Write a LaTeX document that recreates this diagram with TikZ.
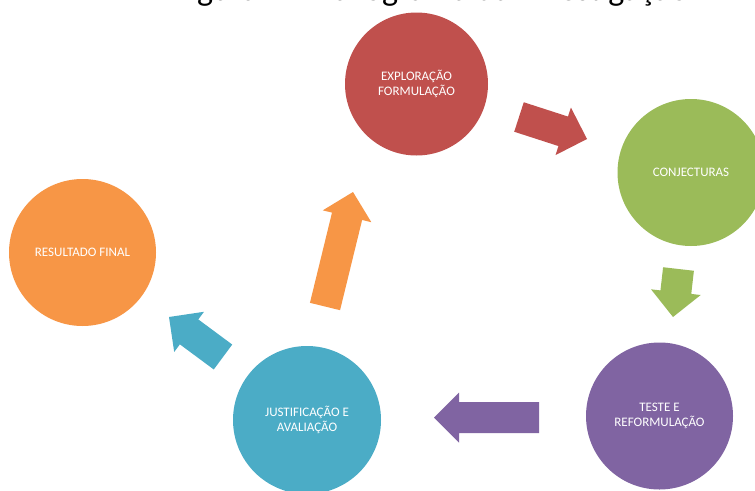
\documentclass[tikz,border=0pt]{standalone}
\usepackage{fontspec}
\setmainfont{Carlito}
\usetikzlibrary{calc}
\definecolor{cred}{HTML}{C0504D}
\definecolor{cgreen}{HTML}{9BBB59}
\definecolor{cpurple}{HTML}{8064A2}
\definecolor{cblue}{HTML}{4BACC6}
\definecolor{corange}{HTML}{F79646}
\tikzset{
  stage/.style={circle, minimum size=147pt, inner sep=0pt, text=white,
    font=\fontsize{13}{14.5}\selectfont, align=center},
}
% block arrow: colour, tail coordinate, tip coordinate
\newcommand{\blockarrow}[3]{%
  \coordinate (hb) at ($(#3)!25pt!(#2)$);
  \fill[#1] ($(#2)!15.5pt!90:(#3)$) -- ($(hb)!15.5pt!90:(#3)$) -- ($(hb)!25pt!90:(#3)$)
    -- (#3) -- ($(hb)!25pt!-90:(#3)$) -- ($(hb)!15.5pt!-90:(#3)$)
    -- ($(#2)!15.5pt!-90:(#3)$) -- cycle;
}
\begin{document}
\begin{tikzpicture}[x=1pt,y=-1pt]
\useasboundingbox (0,0) rectangle (755,490);
\fill[white] (0,0) rectangle (755,490);
\clip (0,0) rectangle (755,490);
\node[anchor=base west, inner sep=0pt, font=\fontsize{34}{40}\selectfont] (cap) at (173.6,0.3)
  {Figura 1 - Fluxograma da Investigação};
% stages
\node[stage, fill=cred, minimum size=143pt] (expl) at (416.5,84) {EXPLORAÇÃO\\FORMULAÇÃO};
\node[stage, fill=cgreen] (conj) at (691,172.5) {CONJECTURAS};
\node[stage, fill=cpurple] (test) at (659.5,416) {TESTE E\\REFORMULAÇÃO};
\node[stage, fill=cblue, minimum size=148pt] (just) at (307,420) {JUSTIFICAÇÃO E\\AVALIAÇÃO};
\node[stage, fill=corange] (res) at (82.5,252.5) {RESULTADO FINAL};
% arrow ends
\coordinate (a1t) at (519,117);   \coordinate (a1h) at (587,139);
\coordinate (a2t) at (678.5,269); \coordinate (a2h) at (673,317);
\coordinate (a3t) at (539,417.5); \coordinate (a3h) at (434,417.5);
\coordinate (a4t) at (223,357);   \coordinate (a4h) at (169,317);
\coordinate (a5t) at (325,306.5); \coordinate (a5h) at (353,192);
\blockarrow{cred}{a1t}{a1h}
\blockarrow{cgreen}{a2t}{a2h}
\blockarrow{cpurple}{a3t}{a3h}
\blockarrow{cblue}{a4t}{a4h}
\blockarrow{corange}{a5t}{a5h}
\end{tikzpicture}
\end{document}
